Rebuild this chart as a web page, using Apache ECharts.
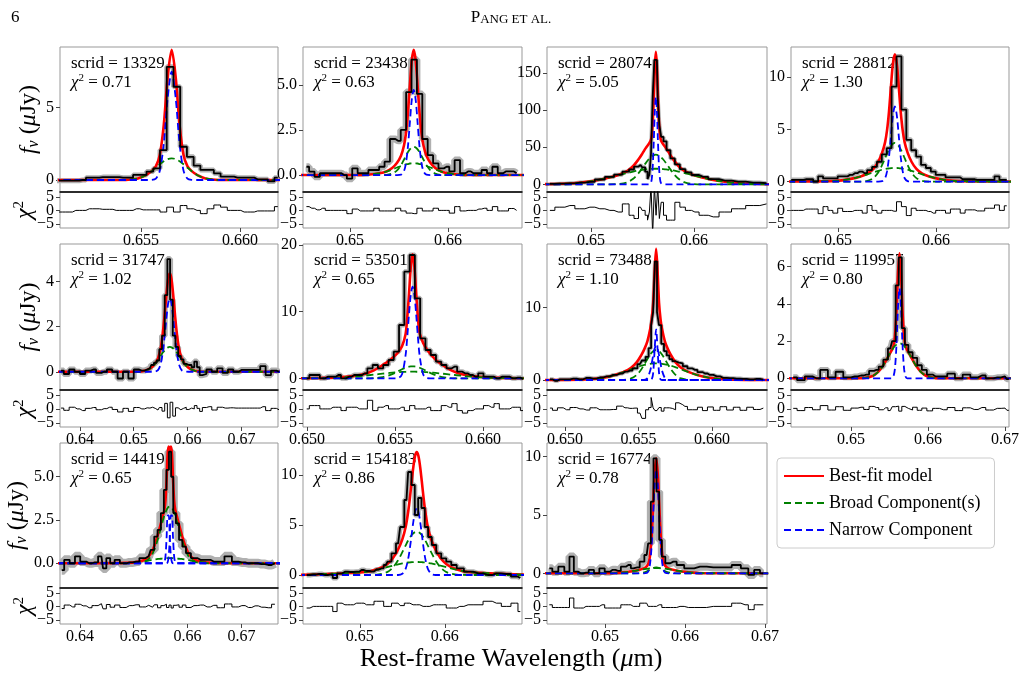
<!DOCTYPE html>
<html>
<head>
<meta charset="utf-8">
<script src="https://cdn.jsdelivr.net/npm/echarts@6/dist/echarts.min.js"></script>
<style>
html, body { margin: 0; padding: 0; background: #fff; }
#main { width: 1022px; height: 676px; }
</style>
</head>
<body>
<div id="main"></div>
<script>
// ---- scrid 13329 ----
var s13329Wave = [0.65069,0.65103,0.65137,0.65171,0.65205,0.65239,0.65273,0.65307,0.65341,0.65375,0.65409,0.65443,0.65477,0.65511,0.65545,0.65579,0.65613,0.65647,0.65681,0.65715,0.65749,0.65783,0.65817,0.65851,0.65885,0.65919,0.65953,0.65987,0.66021,0.66055,0.66089,0.66123,0.66157,0.66191];
var s13329Flux = [-0.05,-0.05,-0.05,-0.05,0.0,0.16,0.16,0.2,0.2,0.2,0.16,0.16,0.35,0.35,0.58,0.8,2.07,7.83,6.45,2.3,1.6,1.0,0.7,0.7,0.46,0.23,0.23,0.16,0.16,0.16,0.05,0.05,-0.1,0.16];
var s13329Resid = [-0.6,-0.6,-0.6,0,0,0.6,0.6,0.4,0.4,0,0,0,0.6,0.2,0.2,0.2,-0.6,1.2,-0.6,1.8,0.6,0,-1.2,0.6,2.0,1.2,0,0,-0.6,-0.6,-0.2,-0.2,-0.2,1.4];
var s13329ModelWave = [0.65055,0.65375,0.65435,0.65485,0.65525,0.65555,0.65575,0.65595,0.65615,0.65635,0.65655,0.65675,0.65695,0.65715,0.65735,0.65755,0.65785,0.65825,0.65875,0.65935,0.66255];
var s13329Model = [0,0,0.02,0.11,0.33,0.63,0.94,1.73,3.80,7.15,9.0,7.15,3.80,1.73,0.94,0.63,0.33,0.11,0.02,0,0];
var s13329Broad1 = [0,0,0.02,0.11,0.33,0.62,0.85,1.09,1.30,1.45,1.5,1.45,1.30,1.09,0.85,0.62,0.33,0.11,0.02,0,0];
var s13329Narrow1 = [0,0,0,0,0,0.01,0.09,0.64,2.50,5.70,7.5,5.70,2.50,0.64,0.09,0.01,0,0,0,0,0];

// ---- scrid 23438 ----
var s23438Wave = [0.64555,0.6461,0.64665,0.6472,0.64775,0.6483,0.64885,0.6494,0.64995,0.6505,0.65105,0.6516,0.65215,0.6527,0.65325,0.6538,0.65435,0.6549,0.65545,0.656,0.65655,0.6571,0.65765,0.6582,0.65875,0.6593,0.65985,0.6604,0.66095,0.6615,0.66205,0.6626,0.66315,0.6637,0.66425,0.6648,0.66535,0.6659,0.66645,0.667];
var s23438Flux = [0.46,0.19,-0.1,0.1,0.1,0.1,0.1,0,-0.2,0.37,0.1,0.1,0.28,0.28,0.46,0.74,2.0,1.9,2.5,4.6,6.4,4.5,2.0,1.1,0.65,0.37,0.46,0.2,0.83,0.1,0.2,0.1,0.1,0.28,0.1,0.46,0.1,0.2,0.2,0.1];
var s23438Resid = [1.4,0.8,0.2,0.8,0,0,0,0,-1.2,0.5,-0.2,-0.2,-0.2,0.8,-0.2,-0.2,-0.2,0.8,-0.2,-1,-1.2,0.8,-0.2,-0.2,0.8,0,0,-1,1.4,-0.2,0,0,0.5,0.8,0,1.4,-0.2,-0.2,0.7,0];
var s23438ModelWave = [0.6445,0.6505,0.652,0.653,0.6537,0.6543,0.6548,0.6552,0.6555,0.6557,0.6559,0.6561,0.6563,0.6565,0.6567,0.6569,0.6571,0.6573,0.6575,0.6578,0.6582,0.6587,0.6593,0.66,0.661,0.6625,0.6685];
var s23438Model = [0,0,0.03,0.10,0.20,0.39,0.68,1.07,1.62,2.29,3.40,4.92,6.35,6.94,6.35,4.92,3.40,2.29,1.62,1.07,0.68,0.39,0.20,0.10,0.03,0,0];
var s23438Broad1 = [0,0,0,0,0.01,0.08,0.26,0.55,0.85,1.06,1.26,1.42,1.53,1.57,1.53,1.42,1.26,1.06,0.85,0.55,0.26,0.08,0.01,0,0,0,0];
var s23438Broad2 = [0,0,0.03,0.10,0.19,0.31,0.42,0.50,0.56,0.59,0.61,0.64,0.65,0.65,0.65,0.64,0.61,0.59,0.56,0.50,0.42,0.31,0.19,0.10,0.03,0,0];
var s23438Narrow1 = [0,0,0,0,0,0,0,0.02,0.21,0.64,1.53,2.86,4.17,4.72,4.17,2.86,1.53,0.64,0.21,0.02,0,0,0,0,0,0,0];

// ---- scrid 28074 ----
var s28074Wave = [0.64601,0.64698,0.64795,0.64892,0.64989,0.65086,0.65183,0.65264,0.65345,0.65394,0.65442,0.65481,0.65513,0.65539,0.65559,0.65575,0.65591,0.65607,0.65624,0.6564,0.65656,0.65672,0.65691,0.65717,0.6575,0.65792,0.65837,0.65889,0.65944,0.66009,0.6609,0.66187,0.663,0.66429,0.66575,0.66704];
var s28074Flux = [0.5,0.9,1.35,2.3,3.3,6.5,10,13,17,20,24,26,23,17,7,13,42,118,168,168,118,80,64,58,46,35,27,20.5,16,12.6,10,7,5,3.5,2.3,1.4];
var s28074Resid = [0,1.2,1.8,0.6,1.2,0.6,0,-0.6,2.4,-1.8,-3,1.2,0,-1.8,-3.6,-0.6,9,-9,9,-1.8,9,-3,3,-1.8,-3.6,-3.6,3,1.2,0,-0.6,-1.8,-2.4,-0.6,0.6,1.8,2.4];
var s28074ModelWave = [0.6453,0.6483,0.6503,0.6518,0.6528,0.6535,0.6541,0.6546,0.655,0.6553,0.6556,0.6558,0.6559,0.656,0.6561,0.6562,0.6563,0.6564,0.6565,0.6566,0.6567,0.6568,0.657,0.6573,0.6576,0.658,0.6585,0.6591,0.6598,0.6608,0.6623,0.6643,0.6673];
var s28074Model = [0.15,1.5,4.8,9.2,13.3,17.8,24.7,33.4,41.8,48.5,54.4,59.1,66.1,84.7,119.4,159.9,179,159.9,119.4,84.7,66.1,59.1,54.4,48.5,41.8,33.4,24.7,17.8,13.3,9.2,4.8,1.5,0.15];
var s28074Broad1 = [0,0,0,0,0.6,2.6,7.5,14.7,22.2,28.3,33.8,36.7,37.8,38.8,39.4,39.9,40,39.9,39.4,38.8,37.8,36.7,33.8,28.3,22.2,14.7,7.5,2.6,0.6,0,0,0,0];
var s28074Broad2 = [0.15,1.5,4.8,9.2,12.7,15.2,17.2,18.7,19.6,20.2,20.6,20.8,20.9,20.9,21,21,21,21,21,20.9,20.9,20.8,20.6,20.2,19.6,18.7,17.2,15.2,12.7,9.2,4.8,1.5,0.15];
var s28074Narrow1 = [0,0,0,0,0,0,0,0,0,0,0,1.6,7.4,25,59,99,118,99,59,25,7.4,1.6,0,0,0,0,0,0,0,0,0,0,0];

// ---- scrid 28812 ----
var s28812Wave = [0.64522,0.64572,0.64622,0.64672,0.64722,0.64772,0.64822,0.64872,0.64922,0.64972,0.65022,0.65072,0.65122,0.65172,0.65222,0.65272,0.65322,0.65372,0.65422,0.65472,0.65522,0.65572,0.65622,0.65672,0.65722,0.65772,0.65822,0.65872,0.65922,0.65972,0.66022,0.66072,0.66122,0.66172,0.66222,0.66272,0.66322,0.66372,0.66422,0.66472,0.66522,0.66572,0.66622,0.66672,0.66722];
var s28812Flux = [0.16,0.16,0.16,0.22,0.22,0,0.5,0.3,0.3,0.3,0.5,0.5,0.64,0.8,0.96,0.8,1.1,1.4,1.9,2.6,3.2,9.1,12.0,6.9,4.0,3.0,2.4,1.6,1.3,0.96,0.64,0.64,0.4,0.4,0.4,0.22,0.22,0.22,0.16,0.16,0.16,0.16,0.5,0.16,0.16];
var s28812Resid = [0,0,0,0.5,0.5,0.5,-1.2,1.4,0,-1,0.8,-0.4,-0.4,0,0,-1,1.8,0,-1,0,0,-0.3,3.2,1.4,-1.9,0.8,0,0,-0.4,-1,0,0,-1,0.5,0.5,-1,0.2,0.2,-0.2,-0.2,0.8,0.8,2,0,1.7];
var s28812ModelWave = [0.6438,0.6498,0.6513,0.6523,0.653,0.6536,0.6541,0.6545,0.6548,0.655,0.6552,0.6554,0.6556,0.6558,0.656,0.6562,0.6564,0.6566,0.6568,0.6571,0.6575,0.658,0.6586,0.6593,0.6603,0.6618,0.6678];
var s28812Model = [0,0.07,0.26,0.49,0.76,1.21,1.90,2.77,3.76,4.90,6.69,9.07,11.28,12.2,11.28,9.07,6.69,4.90,3.76,2.77,1.90,1.21,0.76,0.49,0.26,0.07,0];
var s28812Broad1 = [0,0,0,0,0.07,0.33,0.87,1.59,2.24,2.69,3.09,3.42,3.63,3.7,3.63,3.42,3.09,2.69,2.24,1.59,0.87,0.33,0.07,0,0,0,0];
var s28812Broad2 = [0,0.07,0.26,0.49,0.69,0.88,1.03,1.14,1.20,1.24,1.26,1.28,1.30,1.30,1.30,1.28,1.26,1.24,1.20,1.14,1.03,0.88,0.69,0.49,0.26,0.07,0];
var s28812Narrow1 = [0,0,0,0,0,0,0,0.04,0.32,0.97,2.34,4.37,6.35,7.2,6.35,4.37,2.34,0.97,0.32,0.04,0,0,0,0,0,0,0];

// ---- scrid 31747 ----
var s31747Wave = [0.6365,0.6375,0.6385,0.6395,0.6405,0.6415,0.6425,0.6435,0.6445,0.6455,0.6465,0.6475,0.6485,0.6495,0.6505,0.6515,0.6525,0.653,0.6535,0.654,0.6545,0.655,0.6555,0.656,0.6565,0.657,0.6575,0.658,0.6585,0.659,0.6595,0.66,0.6605,0.661,0.6615,0.662,0.6625,0.663,0.664,0.665,0.666,0.667,0.668,0.669,0.670,0.671,0.672,0.673,0.674,0.675,0.676,0.677];
var s31747Flux = [0.05,-0.1,0.1,0.0,-0.1,0.05,0.1,-0.05,0.0,0.1,0.0,-0.3,0.0,-0.3,0.1,0.05,0.1,0.15,0.3,0.4,0.5,1.0,1.6,3.4,5.0,3.2,1.6,1.1,0.7,0.55,0.35,0.3,0.3,0.2,0.45,0.2,-0.15,-0.1,0.1,0.0,0.15,-0.05,0.1,0.0,0.08,0.08,0.08,0.08,0.25,-0.15,0.05,0.0];
var s31747Resid = [0.3,-0.5,0.6,0.0,-0.6,0.2,0.5,-0.3,0.1,0.6,-0.2,-1.1,0.2,-0.9,0.5,0.0,0.4,0.3,0.6,0.2,-0.4,0.5,-0.8,2.0,-3.2,2.4,-2.6,0.4,-0.3,0.2,0.6,-0.2,0.3,0.0,1.2,0.2,-0.9,0.5,0.8,-0.4,0.6,0.3,0.4,0.3,0.3,0.3,0.3,0.3,0.8,-0.6,0.2,-0.3];
var s31747ModelWave = [0.6357,0.6487,0.6507,0.6522,0.6532,0.6539,0.6545,0.655,0.6554,0.6557,0.656,0.6563,0.6565,0.6567,0.6569,0.6571,0.6574,0.6577,0.658,0.6584,0.6589,0.6595,0.6602,0.6612,0.6627,0.6647,0.6777];
var s31747Model = [0,0,0,0.05,0.17,0.34,0.59,1.04,1.72,2.43,3.24,3.95,4.25,4.36,4.25,3.95,3.24,2.43,1.72,1.04,0.59,0.34,0.17,0.05,0,0,0];
var s31747Broad1 = [0,0,0,0.05,0.17,0.33,0.52,0.70,0.85,0.94,1.02,1.07,1.09,1.1,1.09,1.07,1.02,0.94,0.85,0.70,0.52,0.33,0.17,0.05,0,0,0];
var s31747Narrow1 = [0,0,0,0,0,0.01,0.07,0.34,0.87,1.49,2.22,2.88,3.16,3.26,3.16,2.88,2.22,1.49,0.87,0.34,0.07,0.01,0,0,0,0,0];

// ---- scrid 53501 ----
var s53501Wave = [0.64998,0.65028,0.65058,0.65088,0.65118,0.65148,0.65178,0.65208,0.65238,0.65268,0.65298,0.65328,0.65358,0.65388,0.65418,0.65448,0.65478,0.65508,0.65538,0.65568,0.65598,0.65628,0.65658,0.65688,0.65718,0.65748,0.65778,0.65808,0.65838,0.65868,0.65898,0.65928,0.65958,0.65988,0.66018,0.66048,0.66078,0.66108,0.66138,0.66168,0.66198,0.66228];
var s53501Flux = [0,0.5,0.5,0,0.25,0.25,0.5,0,0.25,0.5,0.5,0.75,1.5,2.0,1.5,2.0,2.75,4.0,8.0,16.0,18.5,12.0,6.0,4.25,3.5,2.5,2.0,1.5,1.75,1.0,0.75,0.5,0.25,0.75,0.25,0.25,0,0.25,0.25,0,0.1,-0.1];
var s53501Resid = [0,1.2,1.2,0,0,0.6,0.6,-0.6,0.6,0.6,0,0,3.1,-0.6,0.6,1.2,0,0,0.6,-0.6,1.2,0,0,0.6,-0.6,-0.6,1.2,0.6,1.9,-0.6,-1.5,-0.6,0,0,1.2,0.6,1.9,0,0,0.6,0.6,-0.6];
var s53501ModelWave = [0.644,0.65,0.6515,0.6525,0.6532,0.6538,0.6543,0.6547,0.655,0.6552,0.6554,0.6556,0.6557,0.6558,0.6559,0.656,0.6561,0.6562,0.6563,0.6564,0.6566,0.6568,0.657,0.6573,0.6577,0.6582,0.6588,0.6595,0.6605,0.662,0.668];
var s53501Model = [0,0.02,0.1,0.3,0.6,1.2,2.0,2.7,3.4,4.0,4.8,6.6,9.2,12.8,16.8,18.6,16.8,12.8,9.2,6.8,5.3,4.4,3.7,2.8,2.0,1.2,0.6,0.3,0.1,0.02,0];
var s53501Broad1 = [0,0,0,0,0,0.04,0.19,0.48,0.82,1.09,1.36,1.59,1.68,1.74,1.79,1.8,1.79,1.74,1.68,1.59,1.36,1.09,0.82,0.48,0.19,0.04,0,0,0,0,0];
var s53501Broad2 = [0,0.01,0.08,0.22,0.38,0.55,0.70,0.81,0.88,0.92,0.96,0.98,0.99,0.99,1.0,1.0,1.0,0.99,0.99,0.98,0.96,0.92,0.88,0.81,0.70,0.55,0.38,0.22,0.08,0.01,0];
var s53501Narrow1 = [0,0,0,0,0,0,0,0,0,0.05,0.60,3.43,6.30,9.72,12.6,13.75,12.6,9.72,6.30,3.43,0.60,0.05,0,0,0,0,0,0,0,0,0];

// ---- scrid 73488 ----
var s73488Wave = [0.64898,0.64932,0.64966,0.65011,0.65057,0.65102,0.65147,0.65193,0.65238,0.65283,0.65329,0.65374,0.65408,0.65442,0.65476,0.6551,0.65537,0.6556,0.65578,0.65594,0.65605,0.65619,0.65633,0.65646,0.65664,0.65683,0.65701,0.65719,0.65741,0.65764,0.65787,0.65816,0.6585,0.65884,0.65918,0.65952,0.65986,0.66032,0.66077,0.66122,0.66168,0.66213,0.66259,0.66304,0.66349];
var s73488Flux = [0.1,-0.1,0.1,0.1,0.2,0.1,0.3,0.2,0.35,0.5,0.7,0.9,1.15,1.3,1.6,2.2,2.7,3.2,4.4,7.6,9.4,16.4,9.4,7.6,5.0,4.0,3.4,2.9,2.6,2.4,2.3,1.9,1.6,1.4,1.1,0.9,0.7,0.5,0.3,0.25,0.2,0.15,0.1,0.15,0.05];
var s73488Resid = [0.3,-0.5,0.4,-0.3,0.5,0,-0.4,0.4,-0.3,-0.3,-0.2,1.0,0.4,0.2,0.3,-1.5,-3.4,-0.3,0.5,4.1,0.4,-0.6,-0.6,0.5,-0.8,0.4,0.4,0.2,-0.3,2.2,1.5,0.9,-0.3,-0.3,0.6,-0.6,0.7,-0.5,0.8,-0.4,0.6,-0.5,0.6,-0.2,0.3];
var s73488ModelWave = [0.6462,0.6502,0.6517,0.6527,0.6534,0.654,0.6545,0.6549,0.6552,0.6554,0.6556,0.6558,0.6559,0.656,0.6561,0.6562,0.6563,0.6564,0.6565,0.6566,0.6568,0.657,0.6572,0.6575,0.6579,0.6584,0.659,0.6597,0.6607,0.6622,0.6662];
var s73488Model = [0,0,0.10,0.35,0.69,1.12,1.69,2.51,3.47,4.27,5.30,7.07,8.42,10.62,15.0,18.15,15.0,10.62,8.42,7.07,5.30,4.27,3.47,2.51,1.69,1.12,0.69,0.35,0.10,0,0];
var s73488Broad1 = [0,0,0,0,0,0.03,0.22,0.74,1.50,2.16,2.87,3.52,3.79,3.98,4.11,4.15,4.11,3.98,3.79,3.52,2.87,2.16,1.50,0.74,0.22,0.03,0,0,0,0,0];
var s73488Broad2 = [0,0,0.10,0.35,0.69,1.09,1.47,1.77,1.97,2.08,2.17,2.24,2.26,2.28,2.3,2.3,2.3,2.28,2.26,2.24,2.17,2.08,1.97,1.77,1.47,1.09,0.69,0.35,0.10,0,0];
var s73488Narrow1 = [0,0,0,0,0,0,0,0,0,0,0,0,0.08,0.95,4.25,7,4.25,0.95,0.08,0,0,0,0,0,0,0,0,0,0,0,0];
var s73488Narrow2 = [0,0,0,0,0,0,0,0,0,0.03,0.26,1.31,2.29,3.41,4.34,4.7,4.34,3.41,2.29,1.31,0.26,0.03,0,0,0,0,0,0,0,0,0];

// ---- scrid 119957 ----
var s119957Wave = [0.6425,0.6435,0.6445,0.6455,0.6465,0.6475,0.6485,0.6495,0.6505,0.6513,0.652,0.6527,0.6533,0.6539,0.6545,0.6551,0.6556,0.656,0.6564,0.6568,0.6572,0.6577,0.6583,0.6589,0.6595,0.6602,0.661,0.662,0.663,0.664,0.665,0.666,0.667,0.668,0.669,0.670,0.6705];
var s119957Flux = [0.05,-0.1,0.1,0.0,0.45,0.05,0.35,0.05,0.1,0.15,0.2,0.4,0.45,0.63,1.0,1.6,2.0,5.0,6.5,2.7,1.8,1.4,1.1,0.7,0.45,0.2,0.1,0.1,0.25,0.0,0.2,0.05,0.15,0.0,0.05,0.1,-0.05];
var s119957Resid = [0.2,-0.6,0.5,-0.3,1.2,-0.4,0.8,-0.5,0.3,0.6,-0.2,0.9,0.5,-0.3,0.4,-0.6,0.8,1.0,-0.8,0.9,0.2,-0.4,0.6,-0.5,0.3,-0.7,0.2,-0.3,0.5,-0.6,0.4,-0.2,0.5,-0.4,0.2,0.3,-0.5];
var s119957ModelWave = [0.6343,0.6503,0.6518,0.6528,0.6535,0.6541,0.6546,0.655,0.6553,0.6555,0.6557,0.6559,0.6561,0.6563,0.6565,0.6567,0.6569,0.6571,0.6573,0.6576,0.658,0.6585,0.6591,0.6598,0.6608,0.6623,0.6783];
var s119957Model = [0,0,0.02,0.12,0.33,0.64,0.99,1.29,1.51,1.71,2.23,3.55,5.61,6.72,5.61,3.55,2.23,1.71,1.51,1.29,0.99,0.64,0.33,0.12,0.02,0,0];
var s119957Broad1 = [0,0,0.02,0.12,0.33,0.64,0.99,1.29,1.51,1.63,1.74,1.81,1.86,1.88,1.86,1.81,1.74,1.63,1.51,1.29,0.99,0.64,0.33,0.12,0.02,0,0];
var s119957Narrow1 = [0,0,0,0,0,0,0,0,0,0.08,0.49,1.74,3.75,4.84,3.75,1.74,0.49,0.08,0,0,0,0,0,0,0,0,0];

// ---- scrid 144195 ----
var s144195Wave = [0.63662,0.63754,0.63865,0.63951,0.64061,0.64172,0.64276,0.64399,0.6446,0.64522,0.64602,0.64688,0.64798,0.64921,0.65044,0.65166,0.65277,0.6535,0.65412,0.65473,0.65535,0.65584,0.65633,0.65676,0.65713,0.65756,0.65811,0.65872,0.65934,0.66007,0.66118,0.66241,0.66363,0.66486,0.66609,0.66762,0.66885,0.67008,0.67131,0.67254,0.67376,0.67499,0.67622];
var s144195Flux = [-0.4,0.2,0.0,0.4,0.1,0.0,0.05,0.4,-0.3,0.3,0.0,0.2,0.0,0.05,0.1,0.3,0.4,0.77,1.54,1.93,2.9,4.24,5.4,6.45,5.0,2.9,2.3,1.35,0.96,0.58,0.3,0.2,0.2,0.1,0.1,0.4,0.1,0.05,0.0,0.0,-0.05,-0.1,0.0];
var s144195Resid = [-0.8,0.5,-0.2,0.8,0.2,-0.5,0.3,1.0,-0.9,0.7,-0.3,0.5,-0.4,0.3,0.6,-0.2,0.4,-0.3,0.6,-0.5,0.3,0.8,-0.4,0.5,-0.6,0.4,0.6,-0.3,0.5,-0.4,0.3,0.5,-0.2,0.4,-0.5,0.9,-0.2,0.3,-0.4,0.2,-0.3,-0.5,0.8];
var s144195ModelWave = [0.6357,0.6487,0.6507,0.6522,0.6532,0.6539,0.6545,0.655,0.6554,0.6557,0.6559,0.6561,0.6563,0.6565,0.6567,0.6569,0.6571,0.6573,0.6575,0.6577,0.658,0.6584,0.6589,0.6595,0.6602,0.6612,0.6627,0.6647,0.6777];
var s144195Model = [0,0.02,0.08,0.23,0.57,1.07,1.67,2.25,2.73,3.11,3.64,4.84,6.32,6.74,6.5,6.74,6.32,4.84,3.64,3.11,2.73,2.25,1.67,1.07,0.57,0.23,0.08,0.02,0];
var s144195Broad1 = [0,0,0.01,0.10,0.39,0.85,1.42,1.99,2.45,2.76,2.94,3.08,3.19,3.26,3.28,3.26,3.19,3.08,2.94,2.76,2.45,1.99,1.42,0.85,0.39,0.10,0.01,0,0];
var s144195Broad2 = [0,0.02,0.07,0.13,0.18,0.22,0.25,0.26,0.28,0.29,0.29,0.3,0.3,0.3,0.3,0.3,0.3,0.3,0.29,0.29,0.28,0.26,0.25,0.22,0.18,0.13,0.07,0.02,0];
var s144195Narrow1 = [0,0,0,0,0,0,0,0,0,0.06,0.41,1.46,2.77,2.77,1.46,0.41,0.06,0,0,0,0,0,0,0,0,0,0,0,0];
var s144195Narrow2 = [0,0,0,0,0,0,0,0,0,0,0,0,0.06,0.41,1.46,2.77,2.77,1.46,0.41,0.06,0,0,0,0,0,0,0,0,0];

// ---- scrid 154183 ----
var s154183Wave = [0.64373,0.64451,0.64522,0.64588,0.64655,0.64706,0.64757,0.64824,0.6489,0.64961,0.6502,0.65078,0.65137,0.65196,0.65255,0.65306,0.65345,0.654,0.65451,0.65498,0.65549,0.65588,0.65627,0.65667,0.65706,0.65745,0.65784,0.65824,0.65871,0.65929,0.65988,0.66047,0.66106,0.66176,0.66275,0.66392,0.6651,0.66608,0.66725,0.66835,0.6689];
var s154183Flux = [0,0.05,0.1,0.0,0.05,-0.3,0.15,0.33,0.3,0.33,0.5,0.4,0.35,0.55,0.67,1.0,1.33,2.17,3.17,4.8,7.5,10.3,9.0,6.0,7.7,6.7,4.8,3.8,3.0,2.17,1.67,1.33,1.0,0.67,0.33,0.17,0.0,0.17,0.1,-0.17,-0.3];
var s154183Resid = [-0.6,0,0,0,0,-1.9,1.2,0.6,0.6,1.2,1.2,0.6,0.6,1.9,1.9,0,0,1.2,1.2,0.3,1.2,1.2,0.6,0.6,0.6,0,0,0,0.6,0.6,0.6,-0.6,-0.6,0,0.6,0.6,1.9,1.2,0,1.2,-1.9];
var s154183ModelWave = [0.6427,0.6507,0.6522,0.6532,0.6539,0.6545,0.655,0.6554,0.6557,0.6559,0.6561,0.6563,0.6565,0.6567,0.6569,0.6571,0.6573,0.6575,0.6577,0.658,0.6584,0.6589,0.6595,0.6602,0.6612,0.6627,0.6707];
var s154183Model = [0,0.30,0.62,1.08,1.70,2.55,3.56,4.82,6.38,7.76,9.33,10.81,11.9,12.3,11.9,10.81,9.33,7.76,6.38,4.82,3.56,2.55,1.70,1.08,0.62,0.30,0];
var s154183Broad1 = [0,0,0.05,0.29,0.76,1.48,2.28,2.97,3.47,3.75,4.0,4.18,4.29,4.33,4.29,4.18,4.0,3.75,3.47,2.97,2.28,1.48,0.76,0.29,0.05,0,0];
var s154183Broad2 = [0,0.30,0.57,0.79,0.94,1.07,1.16,1.21,1.25,1.27,1.28,1.29,1.3,1.3,1.3,1.29,1.28,1.27,1.25,1.21,1.16,1.07,0.94,0.79,0.57,0.30,0];
var s154183Narrow1 = [0,0,0,0,0,0,0.12,0.64,1.66,2.74,4.05,5.34,6.31,6.67,6.31,5.34,4.05,2.74,1.66,0.64,0.12,0,0,0,0,0,0];

// ---- scrid 16774 ----
var s16774Wave = [0.64304,0.64379,0.64454,0.64529,0.64583,0.64638,0.64696,0.64763,0.64829,0.64896,0.64963,0.65029,0.65096,0.65167,0.65229,0.65292,0.65354,0.65404,0.65463,0.65521,0.65558,0.65588,0.65625,0.65663,0.65692,0.65729,0.65779,0.65854,0.65938,0.66042,0.66188,0.66354,0.66521,0.66646,0.6675,0.66833,0.66896,0.66979];
var s16774Flux = [0.43,0.14,0.57,0.14,1.43,0.14,0.0,0.05,0.29,0.0,0.43,0.14,0.3,0.2,0.57,0.71,0.43,0.5,1.0,1.57,2.57,6.14,9.86,7.0,2.86,1.43,0.86,1.0,0.71,0.43,0.57,0.5,0.5,0.71,0.43,-0.14,0.29,0.0];
var s16774Resid = [0.6,-0.4,-0.4,-0.4,3.1,-0.6,-0.6,0,0,0,0.6,-0.6,-0.6,-0.6,0.6,0.6,0,0,1.2,1.2,0,0,0,0.6,0.6,-0.4,-0.4,-0.4,0,-0.4,-0.4,0,0,1.2,0.6,-1.2,0.6,0.6];
var s16774ModelWave = [0.6424,0.6504,0.6519,0.6529,0.6536,0.6542,0.6547,0.6551,0.6554,0.6556,0.6558,0.656,0.6562,0.6564,0.6566,0.6568,0.657,0.6572,0.6574,0.6577,0.6581,0.6586,0.6592,0.6599,0.6609,0.6624,0.6704];
var s16774Model = [0,0.01,0.06,0.13,0.20,0.28,0.38,0.52,0.79,1.37,2.86,5.51,8.49,9.85,8.49,5.51,2.86,1.37,0.79,0.52,0.38,0.28,0.20,0.13,0.06,0.01,0];
var s16774Broad1 = [0,0,0,0,0,0.01,0.05,0.13,0.23,0.30,0.38,0.44,0.48,0.5,0.48,0.44,0.38,0.30,0.23,0.13,0.05,0.01,0,0,0,0,0];
var s16774Broad2 = [0,0.01,0.06,0.13,0.20,0.27,0.33,0.38,0.41,0.42,0.43,0.44,0.45,0.45,0.45,0.44,0.43,0.42,0.41,0.38,0.33,0.27,0.20,0.13,0.06,0.01,0];
var s16774Narrow1 = [0,0,0,0,0,0,0,0.01,0.15,0.65,2.05,4.63,7.56,8.9,7.56,4.63,2.05,0.65,0.15,0.01,0,0,0,0,0,0,0];

var panels = [
  {id: '13329', chi: '0.71', wave: s13329Wave, flux: s13329Flux, resid: s13329Resid, mw: s13329ModelWave, model: s13329Model, broad: [s13329Broad1], narrow: [s13329Narrow1]},
  {id: '23438', chi: '0.63', wave: s23438Wave, flux: s23438Flux, resid: s23438Resid, mw: s23438ModelWave, model: s23438Model, broad: [s23438Broad1, s23438Broad2], narrow: [s23438Narrow1]},
  {id: '28074', chi: '5.05', wave: s28074Wave, flux: s28074Flux, resid: s28074Resid, mw: s28074ModelWave, model: s28074Model, broad: [s28074Broad1, s28074Broad2], narrow: [s28074Narrow1]},
  {id: '28812', chi: '1.30', wave: s28812Wave, flux: s28812Flux, resid: s28812Resid, mw: s28812ModelWave, model: s28812Model, broad: [s28812Broad1, s28812Broad2], narrow: [s28812Narrow1]},
  {id: '31747', chi: '1.02', wave: s31747Wave, flux: s31747Flux, resid: s31747Resid, mw: s31747ModelWave, model: s31747Model, broad: [s31747Broad1], narrow: [s31747Narrow1]},
  {id: '53501', chi: '0.65', wave: s53501Wave, flux: s53501Flux, resid: s53501Resid, mw: s53501ModelWave, model: s53501Model, broad: [s53501Broad1, s53501Broad2], narrow: [s53501Narrow1]},
  {id: '73488', chi: '1.10', wave: s73488Wave, flux: s73488Flux, resid: s73488Resid, mw: s73488ModelWave, model: s73488Model, broad: [s73488Broad1, s73488Broad2], narrow: [s73488Narrow1, s73488Narrow2]},
  {id: '119957', chi: '0.80', wave: s119957Wave, flux: s119957Flux, resid: s119957Resid, mw: s119957ModelWave, model: s119957Model, broad: [s119957Broad1], narrow: [s119957Narrow1]},
  {id: '144195', chi: '0.65', wave: s144195Wave, flux: s144195Flux, resid: s144195Resid, mw: s144195ModelWave, model: s144195Model, broad: [s144195Broad1, s144195Broad2], narrow: [s144195Narrow1, s144195Narrow2]},
  {id: '154183', chi: '0.86', wave: s154183Wave, flux: s154183Flux, resid: s154183Resid, mw: s154183ModelWave, model: s154183Model, broad: [s154183Broad1, s154183Broad2], narrow: [s154183Narrow1]},
  {id: '16774', chi: '0.78', wave: s16774Wave, flux: s16774Flux, resid: s16774Resid, mw: s16774ModelWave, model: s16774Model, broad: [s16774Broad1, s16774Broad2], narrow: [s16774Narrow1]}
];

// axis ranges and ticks per panel
var xRange = [[0.65091,0.66192],[0.6452,0.66755],[0.64573,0.66709],[0.6452,0.66745],[0.6363,0.6768],[0.64977,0.66222],[0.64878,0.66374],[0.64221,0.67052],[0.6363,0.6768],[0.6433,0.6691],[0.64275,0.67025]];
var xTicks = [[0.655,0.660],[0.65,0.66],[0.65,0.66],[0.65,0.66],[0.64,0.65,0.66,0.67],[0.650,0.655,0.660],[0.650,0.655,0.660],[0.65,0.66,0.67],[0.64,0.65,0.66,0.67],[0.65,0.66],[0.65,0.66,0.67]];
var xDec = [3,2,2,2,2,3,3,2,2,2,2];
var yRange = [[-0.83,9.2],[-0.94,7.1],[-10.4,185.5],[-1.0,12.9],[-0.81,5.67],[-1.75,20.15],[-1.38,18.8],[-0.63,7.22],[-1.43,6.95],[-1.3,13.2],[-1.26,11.17]];
var yTicks = [[0,5],[0,2.5,5],[0,50,100,150],[0,5,10],[0,2,4],[0,10,20],[0,10],[0,2,4,6],[0,2.5,5],[0,5,10],[0,5,10]];
var yDec = [0,1,0,0,0,0,0,0,1,0,0];
var residRange = [-6.5, 6.8];
var residTicks = [-5, 0, 5];

// layout
var colLeft = [60, 303, 547, 791];
var colWidth = [218, 219, 220, 218];
var rowTop = [47, 244, 443];
var mainH = [145, 146, 145];
var residH = [36, 37, 36];
var bandWidth = [5, 7, 4, 5, 6, 5, 4, 6, 9, 5, 8];

var FONT = 'Liberation Serif';
var RED = '#ff0000', GREEN = '#008000', BLUE = '#0000ff';

function pairs(xs, ys) {
  return xs.map(function (x, k) { return [x, ys[k]]; });
}
function minusFmt(dec) {
  return function (v) {
    var s = Math.abs(v).toFixed(dec);
    return v < 0 ? '\u2212' + s : s;
  };
}

var grids = [], xAxes = [], yAxes = [], extraY = [], series = [], titles = [];
var richBase = {
  n: {fontFamily: FONT, fontSize: 17, fontWeight: 'normal', color: '#000', lineHeight: 19},
  i: {fontFamily: FONT, fontSize: 17, fontWeight: 'normal', fontStyle: 'italic', color: '#000', lineHeight: 19},
  s: {fontFamily: FONT, fontSize: 11, fontWeight: 'normal', color: '#000', lineHeight: 12, verticalAlign: 'top'}
};

function residAxis(gr, ticks) {
  // one axis per tick value so the close-packed labels are all kept
  return {
    type: 'value', gridIndex: gr, position: 'left', offset: 0, min: residRange[0], max: residRange[1],
    axisLine: {show: false, onZero: false},
    axisTick: {show: true, customValues: ticks, length: 4, lineStyle: {color: '#444'}},
    axisLabel: {customValues: ticks, formatter: minusFmt(0), fontFamily: FONT, fontSize: 16, color: '#000', margin: 6},
    splitLine: {show: false}
  };
}

panels.forEach(function (p, i) {
  var col = i % 4, row = Math.floor(i / 4);
  var gm = 2 * i, gr = 2 * i + 1;
  var top = rowTop[row];
  grids.push({left: colLeft[col], top: top, width: colWidth[col], height: mainH[row], show: true, borderColor: '#999', borderWidth: 1});
  grids.push({left: colLeft[col], top: top + mainH[row], width: colWidth[col], height: residH[row], show: true, borderColor: '#999', borderWidth: 1});

  xAxes.push({
    type: 'value', gridIndex: gm, min: xRange[i][0], max: xRange[i][1],
    axisLine: {show: true, onZero: false, lineStyle: {color: '#000', width: 1.5}},
    axisTick: {show: false}, axisLabel: {show: false}, splitLine: {show: false}
  });
  xAxes.push({
    type: 'value', gridIndex: gr, min: xRange[i][0], max: xRange[i][1],
    axisLine: {show: false, onZero: false},
    axisTick: {show: true, customValues: xTicks[i], length: 4, lineStyle: {color: '#444'}},
    axisLabel: {customValues: xTicks[i], formatter: minusFmt(xDec[i]), fontFamily: FONT, fontSize: 16, color: '#000', margin: 5},
    splitLine: {show: false}
  });

  var yMain = {
    type: 'value', gridIndex: gm, position: 'left', min: yRange[i][0], max: yRange[i][1],
    axisLine: {show: false, onZero: false},
    axisTick: {show: true, customValues: yTicks[i], length: 4, lineStyle: {color: '#444'}},
    axisLabel: {customValues: yTicks[i], formatter: minusFmt(yDec[i]), fontFamily: FONT, fontSize: 16, color: '#000', margin: 6},
    splitLine: {show: false}
  };
  var yRes = residAxis(gr, [0]);
  extraY.push(residAxis(gr, [residTicks[0]]));
  extraY.push(residAxis(gr, [residTicks[2]]));
  if (col === 0) {
    yMain.name = '{i|f}{sub|\u03bd}{n| (}{i|\u03bc}{n|Jy)}';
    yMain.nameLocation = 'middle';
    yMain.nameRotate = 90;
    yMain.nameGap = 18;
    yMain.nameTextStyle = {rich: {
      n: {fontFamily: FONT, fontSize: 24, color: '#000', lineHeight: 26},
      i: {fontFamily: FONT, fontSize: 24, fontStyle: 'italic', color: '#000', lineHeight: 26},
      sub: {fontFamily: FONT, fontSize: 16, fontStyle: 'italic', color: '#000', lineHeight: 14, verticalAlign: 'bottom'}
    }};
    yRes.name = '{i|\u03c7}{s|2}';
    yRes.nameLocation = 'middle';
    yRes.nameRotate = 90;
    yRes.nameGap = 22;
    yRes.nameTextStyle = {rich: {
      i: {fontFamily: FONT, fontSize: 24, fontStyle: 'italic', color: '#000', lineHeight: 26},
      s: {fontFamily: FONT, fontSize: 15, color: '#000', lineHeight: 14, verticalAlign: 'top'}
    }};
  }
  yAxes.push(yMain);
  yAxes.push(yRes);

  // error band under the data
  series.push({type: 'line', xAxisIndex: gm, yAxisIndex: gm, data: pairs(p.wave, p.flux), step: 'middle', symbol: 'none', silent: true, z: 2,
    lineStyle: {color: '#b0b0b0', width: bandWidth[i]}});
  series.push({name: 'Best-fit model', type: 'line', xAxisIndex: gm, yAxisIndex: gm, data: pairs(p.mw, p.model), smooth: 0.3, symbol: 'none', z: 3,
    itemStyle: {color: RED}, lineStyle: {color: RED, width: 2.6}});
  p.broad.forEach(function (b) {
    series.push({name: 'Broad Component(s)', type: 'line', xAxisIndex: gm, yAxisIndex: gm, data: pairs(p.mw, b), smooth: 0.3, symbol: 'none', z: 4,
      itemStyle: {color: GREEN}, lineStyle: {color: GREEN, width: 1.8, type: [7, 4]}});
  });
  p.narrow.forEach(function (b) {
    series.push({name: 'Narrow Component', type: 'line', xAxisIndex: gm, yAxisIndex: gm, data: pairs(p.mw, b), smooth: 0.3, symbol: 'none', z: 4,
      itemStyle: {color: BLUE}, lineStyle: {color: BLUE, width: 1.8, type: [7, 4]}});
  });
  series.push({type: 'line', xAxisIndex: gm, yAxisIndex: gm, data: pairs(p.wave, p.flux), step: 'middle', symbol: 'none', silent: true, z: 5,
    lineStyle: {color: '#000', width: 1.8}});
  series.push({type: 'line', xAxisIndex: gr, yAxisIndex: gr, data: pairs(p.wave, p.resid), step: 'middle', symbol: 'none', silent: true, z: 5,
    lineStyle: {color: '#000', width: 1}});

  titles.push({
    text: '{n|scrid = ' + p.id + '}\n{i|\u03c7}{s|2}{n| = ' + p.chi + '}',
    left: colLeft[col] + 6, top: top + 2, z: 1,
    textStyle: {fontWeight: 'normal', rich: richBase}
  });
});
yAxes = yAxes.concat(extraY);

titles.push({text: '6', left: 6, top: 4, textStyle: {fontFamily: FONT, fontSize: 17, fontWeight: 'normal', color: '#000'}});
titles.push({text: '{a|P}{b|ANG ET AL.}', left: 'center', top: 4,
  textStyle: {fontWeight: 'normal', rich: {a: {fontFamily: FONT, fontSize: 17, fontWeight: 'normal', color: '#000'}, b: {fontFamily: FONT, fontSize: 13, fontWeight: 'normal', color: '#000', verticalAlign: 'bottom', lineHeight: 14}}}});
titles.push({text: '{n|Rest-frame Wavelength (}{i|\u03bc}{n|m)}', left: 'center', top: 641,
  textStyle: {fontWeight: 'normal', rich: {n: {fontFamily: FONT, fontSize: 26, fontWeight: 'normal', color: '#000'}, i: {fontFamily: FONT, fontSize: 26, fontWeight: 'normal', fontStyle: 'italic', color: '#000'}}}});

var chart = echarts.init(document.getElementById('main'));
chart.setOption({
  animation: false,
  backgroundColor: '#fff',
  title: titles,
  legend: {
    data: ['Best-fit model', 'Broad Component(s)', 'Narrow Component'],
    orient: 'vertical', left: 777, top: 458,
    padding: [9, 14, 9, 6], itemGap: 9, itemWidth: 40, itemHeight: 14,
    borderColor: '#cccccc', borderWidth: 1, borderRadius: 4, backgroundColor: '#fff',
    selectedMode: false,
    itemStyle: {opacity: 0},
    textStyle: {fontFamily: FONT, fontSize: 18, color: '#000'}
  },
  grid: grids,
  xAxis: xAxes,
  yAxis: yAxes,
  series: series
});
</script>
</body>
</html>
